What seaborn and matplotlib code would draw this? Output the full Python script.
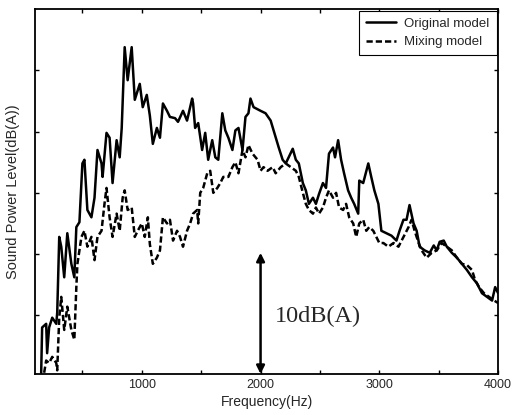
import matplotlib
matplotlib.use("Agg")
import matplotlib.pyplot as plt
import seaborn as sns
import pandas as pd

# Original model (solid)
orig_freq = [153, 161, 195, 203, 220, 246, 280, 288, 305, 322, 347, 373, 407, 432, 449, 475,
             500, 517, 542, 576, 602, 627, 661, 670, 703, 729, 754, 788, 814, 831, 856, 881,
             915, 941, 983, 1008, 1042, 1068, 1093, 1127, 1153, 1178, 1212, 1237, 1280, 1305,
             1347, 1381, 1424, 1432, 1449, 1475, 1508, 1534, 1559, 1593, 1619, 1644, 1678,
             1703, 1729, 1763, 1788, 1814, 1848, 1873, 1898, 1915, 1941, 2000, 2042, 2085,
             2110, 2153, 2186, 2212, 2237, 2271, 2297, 2322, 2356, 2381, 2407, 2441, 2466,
             2492, 2525, 2551, 2576, 2610, 2627, 2653, 2678, 2703, 2737, 2763, 2788, 2822,
             2831, 2864, 2907, 2932, 2958, 2992, 3017, 3059, 3102, 3144, 3170, 3203, 3229,
             3254, 3288, 3314, 3339, 3381, 3424, 3458, 3483, 3508, 3542, 3568, 3610, 3653,
             3695, 3737, 3780, 3822, 3864, 3907, 3949, 3975, 4000]
orig_db = [55.3, 59.0, 59.3, 56.9, 59.0, 59.8, 59.3, 60.2, 66.4, 65.6, 63.1, 66.7, 64.2, 63.1,
           67.2, 67.6, 72.4, 72.7, 68.6, 68.0, 69.6, 73.5, 72.4, 71.3, 74.9, 74.5, 70.8, 74.3,
           72.9, 75.3, 81.9, 79.2, 81.9, 77.6, 78.9, 77.0, 78.0, 76.3, 74.0, 75.3, 74.5, 77.3,
           76.7, 76.2, 76.1, 75.8, 76.7, 75.9, 77.7, 77.3, 75.3, 75.7, 73.5, 74.9, 72.7, 74.3,
           72.9, 72.7, 76.5, 75.1, 74.5, 73.5, 75.1, 75.3, 73.5, 76.2, 76.5, 77.7, 77.0, 76.7,
           76.5, 75.9, 75.1, 73.7, 72.7, 72.4, 72.9, 73.6, 72.7, 72.4, 70.8, 70.2, 69.1, 69.6,
           69.1, 69.9, 70.8, 70.4, 73.2, 73.7, 72.9, 74.3, 72.7, 71.6, 70.2, 69.6, 69.1, 68.3,
           71.0, 70.8, 72.4, 71.3, 70.2, 69.1, 66.9, 66.7, 66.5, 66.1, 66.9, 67.8, 67.8, 69.0,
           67.5, 66.9, 65.6, 65.3, 65.1, 65.7, 65.3, 66.0, 66.1, 65.6, 65.1, 64.7, 64.2, 63.7,
           63.1, 62.6, 61.8, 61.5, 61.2, 62.3, 61.8]

# Mixing model (dashed)
mix_freq = [178, 195, 220, 246, 280, 288, 305, 322, 347, 373, 407, 432, 449, 458, 492, 517,
            542, 576, 602, 627, 661, 686, 703, 729, 754, 788, 814, 839, 856, 881, 915, 941,
            966, 1000, 1025, 1051, 1068, 1093, 1127, 1153, 1178, 1212, 1237, 1263, 1297,
            1322, 1347, 1381, 1407, 1432, 1466, 1475, 1492, 1517, 1551, 1576, 1602, 1636,
            1661, 1686, 1729, 1763, 1788, 1814, 1848, 1873, 1898, 1932, 1975, 2000, 2025,
            2059, 2102, 2127, 2170, 2212, 2254, 2297, 2322, 2356, 2381, 2407, 2441, 2466,
            2492, 2525, 2551, 2576, 2610, 2636, 2661, 2695, 2720, 2746, 2780, 2805, 2831,
            2864, 2890, 2915, 2949, 2975, 3000, 3034, 3076, 3119, 3161, 3203, 3246, 3271,
            3297, 3331, 3356, 3398, 3441, 3483, 3525, 3568, 3610, 3653, 3695, 3737, 3780,
            3805, 3839, 3881, 3924, 3966, 4000]
mix_db = [55.3, 56.3, 56.1, 56.6, 56.1, 55.5, 59.8, 61.5, 58.8, 60.7, 58.8, 58.0, 62.3, 64.2,
          66.4, 66.9, 65.6, 66.4, 64.5, 66.4, 66.9, 69.1, 70.4, 68.0, 66.4, 68.3, 66.9, 69.6,
          70.2, 68.6, 68.8, 66.4, 66.9, 67.5, 66.4, 68.0, 65.8, 64.2, 64.7, 65.3, 68.0, 67.5,
          67.8, 66.1, 66.9, 66.4, 65.6, 66.9, 67.5, 68.3, 68.6, 67.5, 70.0, 70.4, 71.6, 71.8,
          70.0, 70.4, 70.8, 71.3, 71.3, 72.1, 72.5, 71.6, 73.5, 72.9, 73.9, 73.2, 72.7, 71.8,
          72.1, 71.8, 72.1, 71.6, 72.1, 72.4, 72.1, 71.8, 71.3, 70.0, 69.1, 68.6, 68.3, 68.8,
          68.3, 68.8, 69.6, 70.2, 69.6, 70.0, 68.8, 68.6, 69.1, 68.0, 67.5, 66.4, 67.5, 67.8,
          66.9, 67.2, 66.9, 66.4, 65.9, 65.9, 65.6, 65.9, 65.6, 66.4, 67.2, 67.8, 66.9, 65.9,
          65.3, 64.7, 65.1, 65.3, 65.9, 65.6, 65.3, 64.7, 64.2, 64.1, 63.7, 62.9, 62.3, 61.8,
          61.5, 61.2, 61.0]

x_ticks = [1000, 2000, 3000, 4000]
x_minor = [500, 1500, 2500, 3500]
y_ticks = [60, 65, 70, 75, 80]

sns.set_style("ticks")
plt.rcParams['font.family'] = ['Liberation Sans', 'DejaVu Sans']

fig = plt.figure(figsize=(5.13, 4.15), dpi=100)
ax = fig.add_axes([0.068, 0.0988, 0.903, 0.879])

df_o = pd.DataFrame({"f": orig_freq, "db": orig_db})
df_m = pd.DataFrame({"f": mix_freq, "db": mix_db})
sns.lineplot(data=df_o, x="f", y="db", ax=ax, color="black", lw=1.8,
             label="Original model", estimator=None, sort=False)
sns.lineplot(data=df_m, x="f", y="db", ax=ax, color="black", lw=1.8,
             linestyle=(0, (2.5, 1.2)), label="Mixing model", estimator=None, sort=False)

ax.set_xlim(100, 4000)
ax.set_ylim(55.2, 85)
ax.set_xticks(x_ticks)
ax.set_xticks(x_minor, minor=True)
ax.set_yticks(y_ticks)
ax.set_yticklabels([])
ax.tick_params(which="both", direction="in", top=True, right=True, length=3,
               width=1, color="black", labelsize=9)
for s in ax.spines.values():
    s.set_linewidth(1.3)
    s.set_color("black")

ax.set_xlabel("Frequency(Hz)", fontsize=10, labelpad=3)
ax.set_ylabel("Sound Power Level(dB(A))", fontsize=10.5, labelpad=7)

ax.annotate("", xy=(2000, 55.2), xytext=(2000, 65.1),
            arrowprops=dict(arrowstyle="<|-|>", color="black", lw=1.8,
                            mutation_scale=12, shrinkA=0, shrinkB=0))
ax.text(2120, 59.9, "10dB(A)", fontsize=17.5, family=["Liberation Serif", "DejaVu Serif"],
        va="center", ha="left")

leg = ax.legend(loc="upper right", fontsize=9.5, frameon=True, fancybox=False,
                framealpha=1, edgecolor="black", handlelength=2.3, borderpad=0.55,
                labelspacing=0.45, borderaxespad=0.1, handletextpad=0.6)
leg.get_frame().set_linewidth(0.8)

fig.savefig("out.png", dpi=100)
